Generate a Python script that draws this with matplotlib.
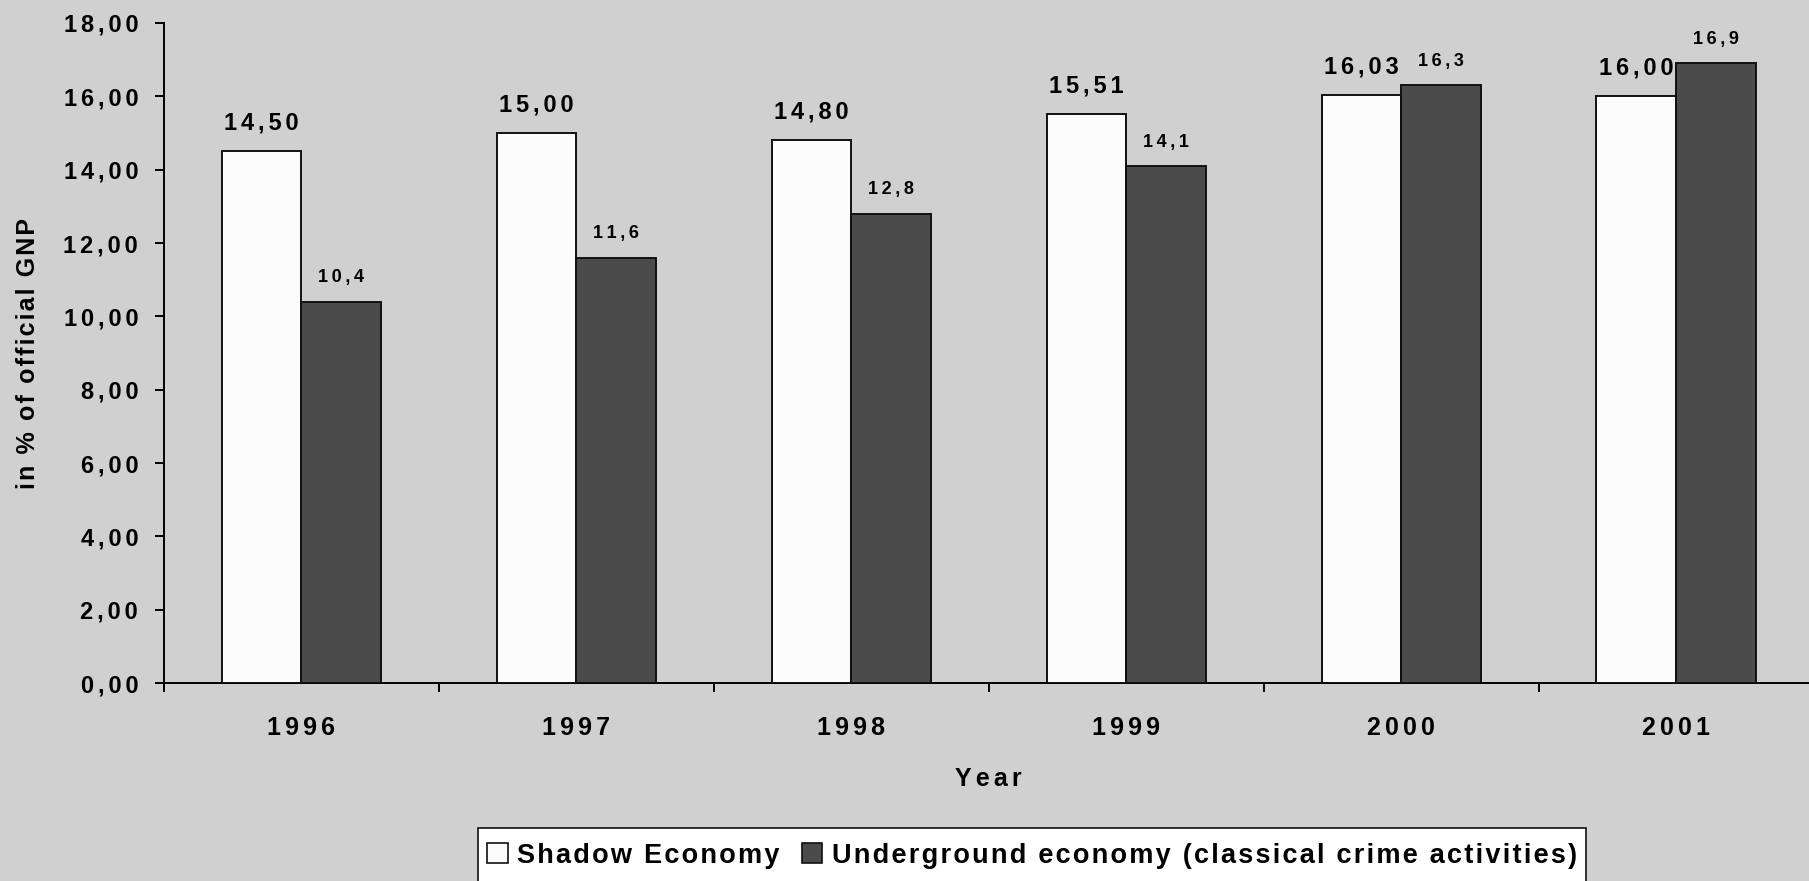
import numpy as np
import matplotlib.pyplot as plt
from matplotlib.patches import Patch, Rectangle

years = ['1996', '1997', '1998', '1999', '2000', '2001']
shadow = [14.50, 15.00, 14.80, 15.51, 16.03, 16.00]
underground = [10.4, 11.6, 12.8, 14.1, 16.3, 16.9]

BG = '#d0d0d0'
plt.rcParams['font.family'] = ['Liberation Sans', 'DejaVu Sans']
plt.rcParams['font.weight'] = 'bold'

HAIR = '\u200a'
SIXTH = '\u2006'
THIN = '\u2009'


def spaced(s, sep=SIXTH):
    # wide letter spacing like the original Excel chart
    return sep.join(s)


def comma(v, nd):
    return f'{v:.{nd}f}'.replace('.', ',')


fig = plt.figure(figsize=(18.09, 8.81), dpi=100, facecolor=BG)
ax = fig.add_axes([0.0906, 0.2247, 0.912, 0.7492])
ax.set_facecolor(BG)

x = np.arange(len(years))
w = 0.29
ax.bar(x - w / 2, shadow, w, color='#fcfcfc', edgecolor='#111111', linewidth=1.4, zorder=3)
ax.bar(x + w / 2, underground, w, color='#4b4b4b', edgecolor='#111111', linewidth=1.4, zorder=3)

for xi, v in zip(x, shadow):
    ax.annotate(spaced(comma(v, 2)), (xi - w / 2, v), xytext=(0, 12), textcoords='offset points',
                ha='center', va='bottom', fontsize=17, fontweight='bold')
for xi, v in zip(x, underground):
    ax.annotate(spaced(comma(v, 1), THIN), (xi + w / 2, v), xytext=(0, 11), textcoords='offset points',
                ha='center', va='bottom', fontsize=13, fontweight='bold')

ax.set_ylim(0, 18)
ax.set_yticks(np.arange(0, 19, 2))
ax.set_yticklabels([spaced(comma(t, 2)) for t in np.arange(0, 19, 2)], fontsize=17, fontweight='bold')
ax.tick_params(axis='y', length=6.5, width=1.4, pad=12, direction='out')

ax.set_xlim(-0.5, 5.5)
ax.set_xticks(x)
ax.set_xticklabels([spaced(y) for y in years], fontsize=18, fontweight='bold')
ax.tick_params(axis='x', which='major', length=0, pad=24)
ax.set_xticks(np.arange(-0.5, 6, 1), minor=True)
ax.tick_params(axis='x', which='minor', length=6.5, width=1.4, direction='out')

for s in ['top', 'right']:
    ax.spines[s].set_visible(False)
for s in ['left', 'bottom']:
    ax.spines[s].set_linewidth(1.4)

ax.set_xlabel(spaced('Year'), fontsize=18, fontweight='bold')
ax.xaxis.set_label_coords(0.5, -0.127)
ax.set_ylabel(spaced('in % of official GNP', HAIR), fontsize=18, fontweight='bold')
ax.yaxis.set_label_coords(-0.075, 0.5)

handles = [Patch(facecolor='#fcfcfc', edgecolor='#111111', linewidth=1.2),
           Patch(facecolor='#4b4b4b', edgecolor='#111111', linewidth=1.2)]
labels = [spaced('Shadow Economy', HAIR),
          spaced('Underground economy (classical crime activities)', HAIR)]
leg = fig.legend(handles, labels,
                 loc='upper center', bbox_to_anchor=(0.5705, 0.0545), ncol=2, fontsize=19.5,
                 frameon=False, handlelength=0.75, handleheight=0.75, handletextpad=0.36,
                 columnspacing=0.8, borderpad=0.36, borderaxespad=0)
leg.set_zorder(5)

# legend box runs off the bottom edge in the original
fig.canvas.draw()
bb = leg.get_window_extent().transformed(fig.transFigure.inverted())
fig.add_artist(Rectangle((bb.x0, -0.02), bb.width, 0.0602 + 0.02, transform=fig.transFigure,
                         facecolor='white', edgecolor='#111111', linewidth=1.2, zorder=4))

fig.savefig('out.png', dpi=100, facecolor=BG)
